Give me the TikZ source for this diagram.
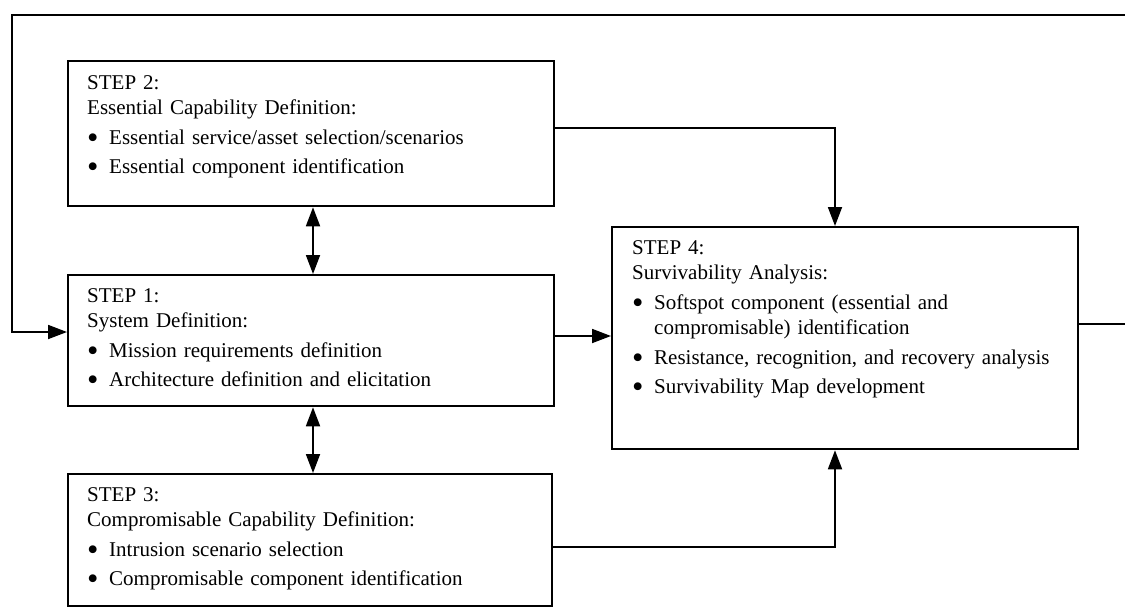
\documentclass[tikz,border=0pt]{standalone}
\usepackage{fontspec}
\setmainfont{Liberation Serif}
\usetikzlibrary{arrows.meta}
\newcommand\itm[1]{\par\vspace{4pt}\noindent\makebox[22pt][l]{\raisebox{-0.2em}{\scalebox{1.55}{\textbullet}}}#1}
\tikzset{
  stepbox/.style={draw, line width=2.3pt, inner sep=0pt, anchor=north west},
  steptext/.style={inner sep=0pt, anchor=north west, text width=460pt,
    font=\fontsize{21}{25.5}\selectfont},
  conn/.style={line width=1.8pt},
  arr/.style={conn, -{Triangle[length=19pt,width=14pt]}},
  darr/.style={conn, {Triangle[length=19pt,width=14pt]}-{Triangle[length=19pt,width=14pt]}}
}
\begin{document}
\begin{tikzpicture}[x=1pt,y=-1pt]
\useasboundingbox (0,0) rectangle (1125,608);
% boxes
\node[stepbox, minimum width=486pt, minimum height=145pt] (s2) at (67,60) {};
\node[stepbox, minimum width=486pt, minimum height=131pt] (s1) at (67,274) {};
\node[stepbox, minimum width=484pt, minimum height=132pt] (s3) at (67,473) {};
\node[stepbox, minimum width=466pt, minimum height=222pt] (s4) at (611,226) {};
% texts
\node[steptext] (t2) at (87,75) {STEP 2:\par Essential Capability Definition:
  \itm{Essential service/asset selection/scenarios}
  \itm{Essential component identification}\par};
\node[steptext] (t1) at (87,288) {STEP 1:\par System Definition:
  \itm{Mission requirements definition}
  \itm{Architecture definition and elicitation}\par};
\node[steptext] (t3) at (87,487) {STEP 3:\par Compromisable Capability Definition:
  \itm{Intrusion scenario selection}
  \itm{Compromisable component identification}\par};
\node[steptext] (t4) at (632,240) {STEP 4:\par Survivability Analysis:
  \itm{Softspot component (essential and\\\hspace*{22pt}compromisable) identification}
  \itm{Resistance, recognition, and recovery analysis}
  \itm{Survivability Map development}\par};
% coordinates for the feedback loop
\coordinate (fbr) at (1125,324);
\coordinate (fbtr) at (1125,15);
\coordinate (fbtl) at (12,15);
\coordinate (fbbl) at (12,332);
% connectors
\draw[darr] (s2.south -| 313,0) -- (s1.north -| 313,0);
\draw[darr] (s1.south -| 313,0) -- (s3.north -| 313,0);
\draw[arr] (s1.east |- 0,336) -- (s4.west |- 0,336);
\draw[arr] (s2.east |- 0,128) -| (s4.north -| 835,0);
\draw[arr] (s3.east |- 0,547) -| (s4.south -| 835,0);
\draw[conn] (s4.east |- fbr) -- (fbr);
\draw[arr] (fbtr) -- (fbtl) -- (fbbl) -- (s1.west |- fbbl);
\end{tikzpicture}
\end{document}
